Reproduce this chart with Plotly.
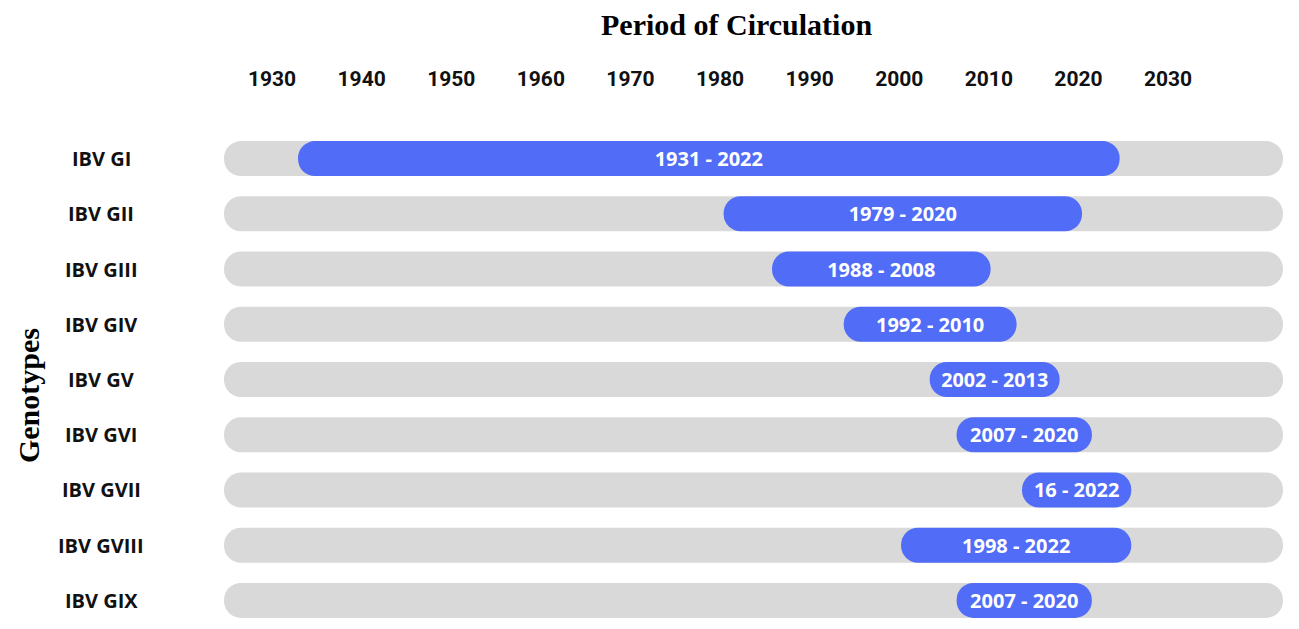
import plotly.graph_objects as go

# genotypes, top to bottom
genotypes = ["IBV GI", "IBV GII", "IBV GIII", "IBV GIV", "IBV GV",
             "IBV GVI", "IBV GVII", "IBV GVIII", "IBV GIX"]

# drawn extent of each blue bar (years)
bar_start = [1932.9, 1980.4, 1985.8, 1993.8, 2003.4, 2006.4, 2013.7, 2000.2, 2006.4]
bar_end = [2024.6, 2020.4, 2010.2, 2013.1, 2017.9, 2021.5, 2025.9, 2025.9, 2021.5]

# text written inside the bars
period_labels = ["1931 - 2022", "1979 - 2020", "1988 - 2008", "1992 - 2010", "2002 - 2013",
                 "2007 - 2020", "16 - 2022", "1998 - 2022", "2007 - 2020"]

# grey track behind every row
track_start = 1924.64
track_end = 2042.83

year_ticks = [1930, 1940, 1950, 1960, 1970, 1980, 1990, 2000, 2010, 2020, 2030]

fig = go.Figure()

# background tracks
fig.add_trace(go.Bar(
    y=genotypes,
    x=[track_end - track_start] * len(genotypes),
    base=[track_start] * len(genotypes),
    orientation="h",
    marker=dict(color="#d9d9d9", cornerradius="50%", line=dict(width=0)),
    hoverinfo="skip",
    showlegend=False,
))

# circulation periods
fig.add_trace(go.Bar(
    y=genotypes,
    x=[e - s for s, e in zip(bar_start, bar_end)],
    base=bar_start,
    orientation="h",
    text=period_labels,
    textposition="inside",
    insidetextanchor="middle",
    textangle=0,
    constraintext="none",
    textfont=dict(family="Open Sans", size=20, color="white", weight="bold"),
    marker=dict(color="#516cf6", cornerradius="50%", line=dict(width=0)),
    showlegend=False,
))

# genotype names, centred in the left margin
for g in genotypes:
    fig.add_annotation(
        x=-0.116, xref="paper", y=g, yref="y",
        text=g, showarrow=False, xanchor="center", yanchor="middle",
        font=dict(family="Open Sans", size=20, color="#111111", weight="bold"),
    )

# axis titles
fig.add_annotation(
    x=0.4844, xref="paper", y=1.2135, yref="paper",
    text="Period of Circulation", showarrow=False, xanchor="center", yanchor="middle",
    font=dict(family="Liberation Serif", size=30, color="black", weight="bold"),
)
fig.add_annotation(
    x=-0.184, xref="paper", y=0.467, yref="paper",
    text="Genotypes", showarrow=False, textangle=-90, xanchor="center", yanchor="middle",
    font=dict(family="Liberation Serif", size=30, color="black", weight="bold"),
)

# page body has an 8px margin, so the figure is 8px smaller and margins shifted
fig.update_layout(
    width=1291,
    height=621,
    margin=dict(l=216, r=16, t=123, b=1),
    plot_bgcolor="white",
    paper_bgcolor="white",
    barmode="overlay",
    bargap=0.366,
    xaxis=dict(
        range=[track_start, track_end],
        side="top",
        tickvals=year_ticks,
        showgrid=False,
        zeroline=False,
        showline=False,
        ticks="",
        ticklabelstandoff=40,
        tickfont=dict(family="Roboto", size=21, color="#111111", weight="bold"),
    ),
    yaxis=dict(
        autorange="reversed",
        showticklabels=False,
        showgrid=False,
        zeroline=False,
        showline=False,
    ),
)

fig.write_html("out.html")
